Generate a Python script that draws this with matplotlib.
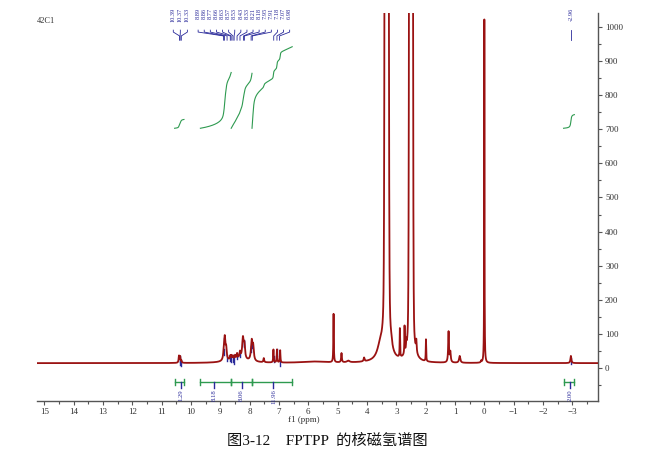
import numpy as np
import matplotlib
matplotlib.use('Agg')
import matplotlib.pyplot as plt
from matplotlib.ticker import MultipleLocator
from matplotlib.transforms import blended_transform_factory

plt.rcParams['font.family'] = ['Liberation Serif', 'Noto Sans CJK SC']

# peaks: position (ppm), height above baseline, half width (ppm)
peak_ppm = [10.41, 10.37, 10.33, 8.89, 8.85, 8.80, 8.66, 8.62, 8.57, 8.50,
            8.43, 8.33, 8.23, 8.18, 7.93, 7.88, 7.52, 7.19, 7.07, 6.96,
            8.40, 5.80, 5.14, 4.87, 4.64, 4.10, 3.55, 3.33, 3.17, 2.88,
            2.72, 2.66, 2.50, 2.32, 1.99, 1.22, 1.16, 0.84, 0.11, 0.00,
            -2.95]
peak_height = [20, 18, 6, 10, 72, 28, 11, 11, 9, 10,
               14, 18, 60, 38, 58, 38, 12, 38, 38, 36,
               12, 4, 142, 27, 5, 11, 35, 3000, 10, 84,
               80, 24, 2400, 34, 64, 90, 30, 20, 5, 1010,
               21]
peak_hw = [0.014, 0.014, 0.014, 0.015, 0.03, 0.02, 0.015, 0.015, 0.015, 0.015,
           0.015, 0.02, 0.03, 0.025, 0.03, 0.025, 0.015, 0.01, 0.01, 0.01,
           0.35, 0.5, 0.009, 0.014, 0.05, 0.018, 0.12, 0.025, 0.03, 0.008,
           0.008, 0.01, 0.022, 0.014, 0.008, 0.015, 0.018, 0.025, 0.012, 0.006,
           0.018]
# gaussian cores of the two solvent signals
solvent_ppm = [3.33, 2.50]
solvent_height = [20000, 20000]
solvent_sigma = [0.03, 0.028]
baseline_level = 14

# peak picking labels (groups)
label_groups = [[10.39, 10.37, 10.33],
                [8.89, 8.86, 8.77, 8.66, 8.63, 8.57, 8.53, 8.43,
                 8.33, 8.21, 8.18, 7.95, 7.91, 7.18, 7.07, 6.98],
                [-2.96]]
label_spacing = [0.24, 0.208, 0.2]

# integrals
integral_from = [10.56, 9.68, 8.63, 7.92, -2.70]
integral_to = [10.24, 8.63, 7.92, 6.55, -3.07]
integral_mark = [10.35, 9.22, 8.27, 7.19, -2.93]
integral_value = [1.29, 8.18, 8.06, 11.96, 2.00]

red = '#9a1212'
blue = '#2a2a9a'
green = '#2e9a50'
grey = '#555555'

ppm = np.linspace(15.25, -3.9, 30000)
spec = np.full_like(ppm, baseline_level, dtype=float)
for p, h, w in zip(peak_ppm, peak_height, peak_hw):
    spec += h / (1 + ((ppm - p) / w) ** 2)
for p, h, s in zip(solvent_ppm, solvent_height, solvent_sigma):
    spec += h * np.exp(-(ppm - p) ** 2 / (2 * s ** 2))

fig = plt.figure(figsize=(6.69, 4.58), dpi=100)
ax = fig.add_axes([0.0553, 0.1245, 0.8388, 0.847])

# blue peak marks under the spectrum
for grp in label_groups:
    for p in grp:
        v = np.interp(-p, -ppm, spec)
        ax.plot([p, p], [v - 18, v], color=blue, lw=1.0, zorder=2)

ax.plot(ppm, spec, color=red, lw=1.3, zorder=3)

# integral curves at the top and bars below baseline
for a, b, m, val in zip(integral_from, integral_to, integral_mark, integral_value):
    sel = (ppm <= a) & (ppm >= b)
    seg = np.cumsum(spec[sel] - baseline_level)
    seg = (seg - seg[0]) / (seg[-1] - seg[0])
    ax.plot(ppm[sel], 703 + 20 * val * seg, color=green, lw=0.8, zorder=3)
    ax.plot([a, b], [-41, -41], color=green, lw=1.0)
    ax.plot([a, a], [-49, -33], color=green, lw=1.0)
    ax.plot([b, b], [-49, -33], color=green, lw=1.0)
    ax.plot([m, m], [-41, -60], color=blue, lw=1.0)
    ax.text(m, -62, '{:.2f}'.format(val), rotation=90, ha='center', va='top',
            fontsize=4.8, color=blue)

# peak labels with connector lines
trans = blended_transform_factory(ax.transData, ax.transAxes)
for grp, sp in zip(label_groups, label_spacing):
    n = len(grp)
    centre = np.mean(grp)
    for i, p in enumerate(grp):
        lx = centre + (n - 1) / 2 * sp - i * sp
        ax.text(lx, 1.013, '{:.2f}'.format(p), rotation=90, ha='center',
                va='top', fontsize=4.6, color=blue, transform=trans,
                clip_on=False)
        ax.plot([lx, lx, p, p], [0.956, 0.951, 0.941, 0.930], color=blue,
                lw=0.6, transform=trans, clip_on=False)

ax.text(0.0, 0.99, '42C1', transform=ax.transAxes, fontsize=6, ha='left',
        va='top', color='#333333')

ax.set_xlim(15.25, -3.88)
ax.set_ylim(-97, 1041)
for s in ['left', 'top']:
    ax.spines[s].set_visible(False)
for s in ['right', 'bottom']:
    ax.spines[s].set_color(grey)
    ax.spines[s].set_linewidth(1.0)
ax.yaxis.tick_right()
ax.set_xticks(np.arange(15, -4, -1))
ax.xaxis.set_minor_locator(MultipleLocator(0.5))
ax.set_yticks(np.arange(0, 1001, 100))
ax.yaxis.set_minor_locator(MultipleLocator(50))
ax.tick_params(which='both', direction='out', colors=grey, labelsize=6.5,
               labelcolor='#333333', width=0.8, pad=2)
ax.tick_params(which='major', length=3)
ax.tick_params(which='minor', length=2.5)
ax.set_xlabel('f1 (ppm)', fontsize=6.5, color='#333333')
ax.xaxis.set_label_coords(0.475, -0.039)

fig.text(0.49, 0.037, '图3-12    FPTPP  的核磁氢谱图', ha='center', va='center',
         fontsize=11, color='#111111')

fig.savefig('out.png', dpi=100)
